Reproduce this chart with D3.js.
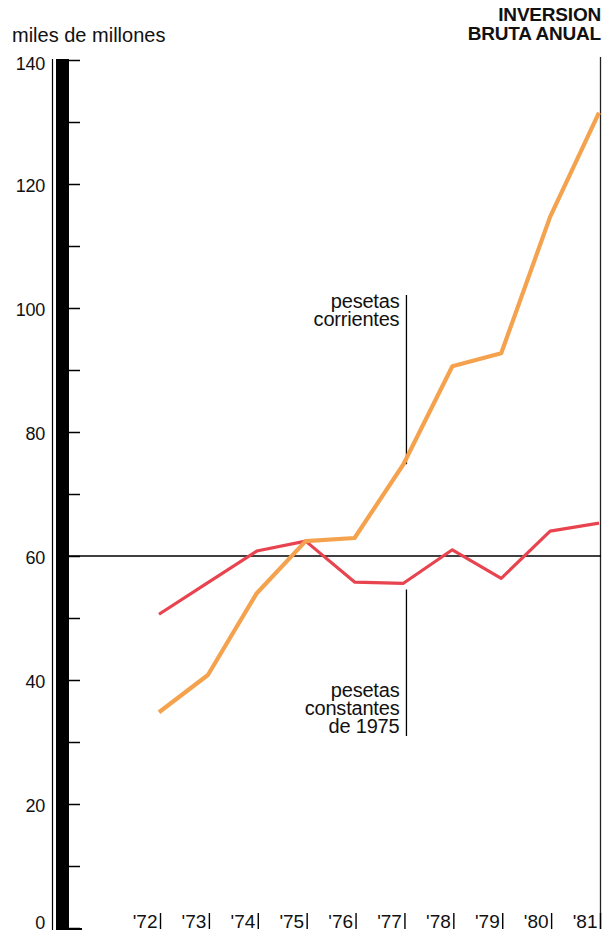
<!DOCTYPE html>
<html>
<head>
<meta charset="utf-8">
<script src="https://cdn.jsdelivr.net/npm/d3@7"></script>
<style>
  body { margin: 0; background: #fff; }
  svg text { font-family: "Liberation Sans", Arial, sans-serif; fill: #111; }
</style>
</head>
<body>
<div id="chart"></div>
<script>
// years and values (miles de millones de pesetas)
const years = [1972, 1973, 1974, 1975, 1976, 1977, 1978, 1979, 1980, 1981];
const corrientes = [34.8, 40.8, 54.0, 62.4, 62.9, 74.8, 90.6, 92.7, 114.7, 131.5];
const constantes = [50.6, 55.7, 60.8, 62.4, 55.8, 55.6, 61.0, 56.4, 64.0, 65.3];
const yTicks = [0, 10, 20, 30, 40, 50, 60, 70, 80, 90, 100, 110, 120, 130, 140];
const refValue = 60;

const W = 605, H = 935;

let svg = d3.select("#chart")
    .append("svg")
    .attr("width", W)
    .attr("height", H);

let x = d3.scalePoint()
    .domain(years)
    .range([159, 599]);

let y = d3.scaleLinear()
    .domain([0, 140])
    .range([928, 60]);

// thick black y bar + thin line beside it
svg.append("rect")
    .attr("x", 56).attr("y", y(140) - 1)
    .attr("width", 13).attr("height", y(0) - y(140) + 3)
    .attr("fill", "#000");
svg.append("line")
    .attr("x1", 52.5).attr("x2", 52.5)
    .attr("y1", y(140) - 1).attr("y2", y(0) + 2)
    .attr("stroke", "#000").attr("stroke-width", 1.2);

// y ticks
let yAxis = d3.axisRight(y)
    .tickValues(yTicks)
    .tickSize(12)
    .tickSizeOuter(0)
    .tickFormat(d => d % 20 === 0 ? d : "");

let gy = svg.append("g")
    .attr("transform", "translate(68,0)")
    .call(yAxis);
gy.select(".domain").remove();
gy.selectAll(".tick line").attr("stroke", "#000").attr("stroke-width", 1.5);
gy.selectAll(".tick text")
    .attr("x", -23)
    .attr("text-anchor", "end")
    .attr("dy", d => d === 0 ? "0.05em" : d === 140 ? "0.55em" : "0.4em")
    .style("font-size", "18px")
    .style("letter-spacing", "-0.3px");
// foot at the bottom
svg.append("line")
    .attr("x1", 68).attr("x2", 82)
    .attr("y1", y(0) + 1).attr("y2", y(0) + 1)
    .attr("stroke", "#000").attr("stroke-width", 2);

// right border line
svg.append("line")
    .attr("x1", x(1981) + 1.5).attr("x2", x(1981) + 1.5)
    .attr("y1", y(140) - 3).attr("y2", y(0) + 1)
    .attr("stroke", "#222").attr("stroke-width", 1.3);

// reference line at 60
svg.append("line")
    .attr("x1", 69).attr("x2", x(1981) + 2)
    .attr("y1", y(refValue)).attr("y2", y(refValue))
    .attr("stroke", "#000").attr("stroke-width", 1.3);

// x axis: labels with little bars
let xAxis = d3.axisTop(x)
    .tickSize(16)
    .tickSizeOuter(0)
    .tickFormat(d => "'" + String(d).slice(2));

let gx = svg.append("g")
    .attr("transform", `translate(0,${y(0) + 1})`)
    .call(xAxis);
gx.select(".domain").remove();
gx.selectAll(".tick line").attr("x1", 1).attr("x2", 1).attr("stroke", "#000").attr("stroke-width", 1.4);
gx.selectAll(".tick text")
    .attr("x", -2)
    .attr("y", -1)
    .attr("dy", 0)
    .attr("text-anchor", "end")
    .style("font-size", "19px")
    .style("letter-spacing", "0px");

// annotation leader lines
let leaders = [
    {year: 1977, v1: y.invert(295), v2: corrientes[5], lines: ["pesetas", "corrientes"], base: 308},
    {year: 1977, v1: constantes[5] - 1, v2: y.invert(736), lines: ["pesetas", "constantes", "de 1975"], base: 697}
];
leaders.forEach(l => {
    svg.append("line")
        .attr("x1", x(l.year) + 3).attr("x2", x(l.year) + 3)
        .attr("y1", y(l.v1)).attr("y2", y(l.v2))
        .attr("stroke", "#000").attr("stroke-width", 1.3);
    l.lines.forEach((t, i) => {
        svg.append("text")
            .attr("x", x(l.year) - 4)
            .attr("y", l.base + i * 18)
            .attr("text-anchor", "end")
            .style("font-size", "20px")
            .style("letter-spacing", "-0.2px")
            .text(t);
    });
});

// lines
let line = d3.line()
    .x((d, i) => x(years[i]))
    .y(d => y(d));

svg.append("path")
    .datum(constantes)
    .attr("d", line)
    .attr("fill", "none")
    .attr("stroke", "#e8444f")
    .attr("stroke-width", 3.2)
    .attr("stroke-linejoin", "round");

svg.append("path")
    .datum(corrientes)
    .attr("d", line)
    .attr("fill", "none")
    .attr("stroke", "#f5a24e")
    .attr("stroke-width", 4.2)
    .attr("stroke-linejoin", "round");

// titles
svg.append("text")
    .attr("x", 12).attr("y", 42)
    .style("font-size", "20px")
    .style("letter-spacing", "0px")
    .text("miles de millones");

svg.append("text")
    .attr("x", 601).attr("y", 21)
    .attr("text-anchor", "end")
    .style("font-size", "19px")
    .style("font-weight", "bold")
    .style("letter-spacing", "-0.2px")
    .text("INVERSION");
svg.append("text")
    .attr("x", 601).attr("y", 40)
    .attr("text-anchor", "end")
    .style("font-size", "19px")
    .style("font-weight", "bold")
    .style("letter-spacing", "-0.2px")
    .text("BRUTA ANUAL");
</script>
</body>
</html>
